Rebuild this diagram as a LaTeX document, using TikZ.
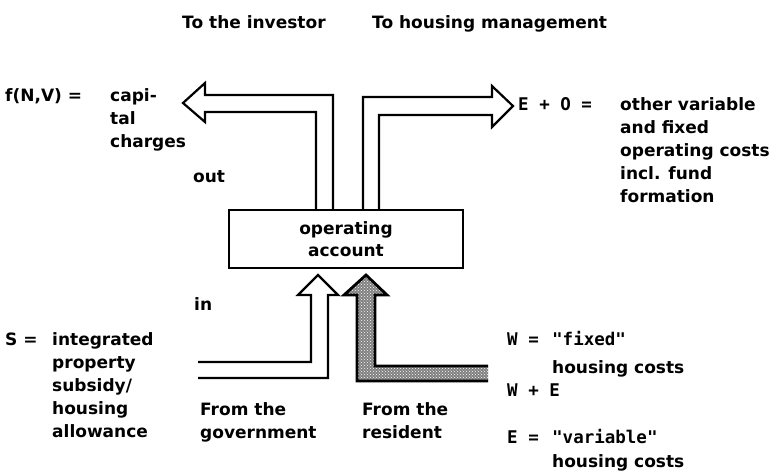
\documentclass[tikz,border=0pt]{standalone}
\usepackage{fontspec}
\setmainfont{DejaVu Sans}
\newfontfamily\typew{DejaVu Sans Mono}
\usepackage{tikz}
\usetikzlibrary{patterns}
\usetikzlibrary{positioning}

\begin{document}
\begin{tikzpicture}[x=1pt, y=-1pt,
  lbl/.style={anchor=base west, inner sep=0pt, align=left, font=\fontsize{17}{23}\bfseries},
  sym/.style={lbl, font=\fontsize{17.5}{23}\typew\bfseries},
  flow/.style={line width=2.2pt, line join=miter}]
\useasboundingbox (0,0) rectangle (779,472);

 % account box
 \node[draw, line width=2.2pt, minimum width=234pt, minimum height=58pt, inner sep=0pt,
       align=center, font=\fontsize{17}{22}\bfseries] (acct) at (346,239) {operating\\account};

 % out: to the investor, to the management
 \draw[flow] (333,210) -- (333,95) -- (205,95) -- (205,83) -- (183,103) -- (205,122) -- (205,112) -- (316,112) -- (316,210);
 \draw[flow] (363,210) -- (363,97) -- (492,97) -- (492,86) -- (513,106) -- (492,127) -- (492,115) -- (379,115) -- (379,210);

 % in: from the government
 \draw[flow] (198,362) -- (311,362) -- (311,295) -- (298,295) -- (318,275) -- (338,295) -- (328,295) -- (328,378) -- (198,378);

 % in: from the resident
 \path[preaction={fill=black!50}, pattern=crosshatch dots, pattern color=white]
   (488,366) -- (375,366) -- (375,295) -- (387,295) -- (366,275) -- (344,295) -- (357,295) -- (357,381) -- (488,381) -- cycle;
 \draw[flow, line width=2.8pt] (488,366) -- (375,366) -- (375,295) -- (387,295) -- (366,275) -- (344,295) -- (357,295) -- (357,381) -- (488,381);

 % labels (base = last line)
 \node[lbl] (invest) at (182,28) {To the investor};
 \node[lbl] (manage) at (372,28) {To housing management};
 \node[lbl] (fnv) at (5,101) {f(N,V) =};
 \node[lbl] (capital) at (110,147) {capi-\\tal\\charges};
 \node[lbl] (out) at (193,182) {out};
 \node[lbl] (in) at (194,310) {in};

 \node[sym] (eo) at (518,110) {E + O =};
 \node[lbl] (other) at (620,202) {other variable\\and fixed\\operating costs\\incl. fund\\formation};

 \node[lbl] (s) at (5,345) {S =};
 \node[lbl] (subsidy) at (52,437) {integrated\\property\\subsidy/\\housing\\allowance};

 \node[lbl] (govt) at (200,438) {From the\\government};
 \node[lbl] (resid) at (362,438) {From the\\resident};

 \node[sym] (wsym) at (507,345) {W =};
 \node[sym] (wfix) at (552,345) {"fixed"};
 \node[lbl] (wcost) at (552,373) {housing costs};
 \node[sym] (we) at (507,396) {W + E};
 \node[sym] (esym) at (507,443) {E =};
 \node[sym] (evar) at (552,443) {"variable"};
 \node[lbl] (ecost) at (552,467) {housing costs};

\end{tikzpicture}
\end{document}
